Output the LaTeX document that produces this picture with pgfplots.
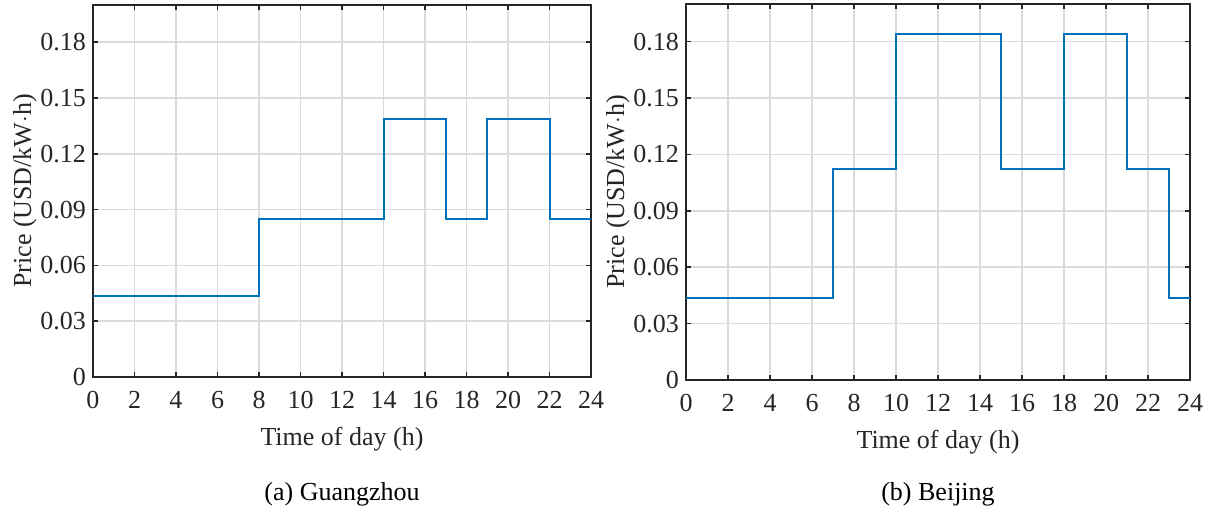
\documentclass[border=0pt]{standalone}
\usepackage{pgfplots}
\pgfplotsset{compat=1.18}
\usepackage{fontspec}
\setmainfont{Liberation Serif}
\definecolor{mblue}{RGB}{0,114,189}
\definecolor{axgray}{RGB}{38,38,38}
\pgfplotsset{
  myaxis/.style={
    scale only axis,
    xmin=0, xmax=24, ymin=0, ymax=0.2,
    xtick={0,2,...,24},
    ytick={0,0.03,0.06,0.09,0.12,0.15,0.18},
    yticklabels={0,0.03,0.06,0.09,0.12,0.15,0.18},
    /pgf/number format/assume math mode=true,
    tick align=inside,
    major tick length=2.5pt,
    axis line style={axgray, line width=0.8pt},
    every tick/.style={axgray, line width=0.8pt},
    grid=major,
    major grid style={black!14, line width=0.8pt},
    tick label style={font=\fontsize{13}{15}\selectfont, text=axgray},
    label style={font=\fontsize{13}{15}\selectfont, text=axgray},
    xlabel={Time of day (h)},
    ylabel={Price (USD/kW$\cdot$h)},
    xlabel style={yshift=-2.5pt},
    ylabel style={yshift=-5pt},
    xticklabel style={yshift=-3.5pt},
  }
}
\begin{document}
\begin{tikzpicture}
\path[use as bounding box] (0,0) rectangle (607pt,259pt);
\begin{axis}[myaxis, at={(46.5pt,70.5pt)}, anchor=south west, width=249pt, height=186pt]
\addplot[const plot, mblue, line width=1pt] coordinates {
(0,0.0435) (8,0.0849) (14,0.1386) (17,0.0849) (19,0.1386) (22,0.0849) (24,0.0849)};
\end{axis}
\begin{axis}[myaxis, at={(343pt,69pt)}, anchor=south west, width=252pt, height=188pt]
\addplot[const plot, mblue, line width=1pt] coordinates {
(0,0.0437) (7,0.1124) (10,0.1838) (15,0.1124) (18,0.1838) (21,0.1124) (23,0.0437) (24,0.0437)};
\end{axis}
\node[font=\fontsize{13}{15}\selectfont, text=black] at (171pt,12pt) {(a) Guangzhou};
\node[font=\fontsize{13}{15}\selectfont, text=black] at (469pt,12pt) {(b) Beijing};
\end{tikzpicture}
\end{document}
